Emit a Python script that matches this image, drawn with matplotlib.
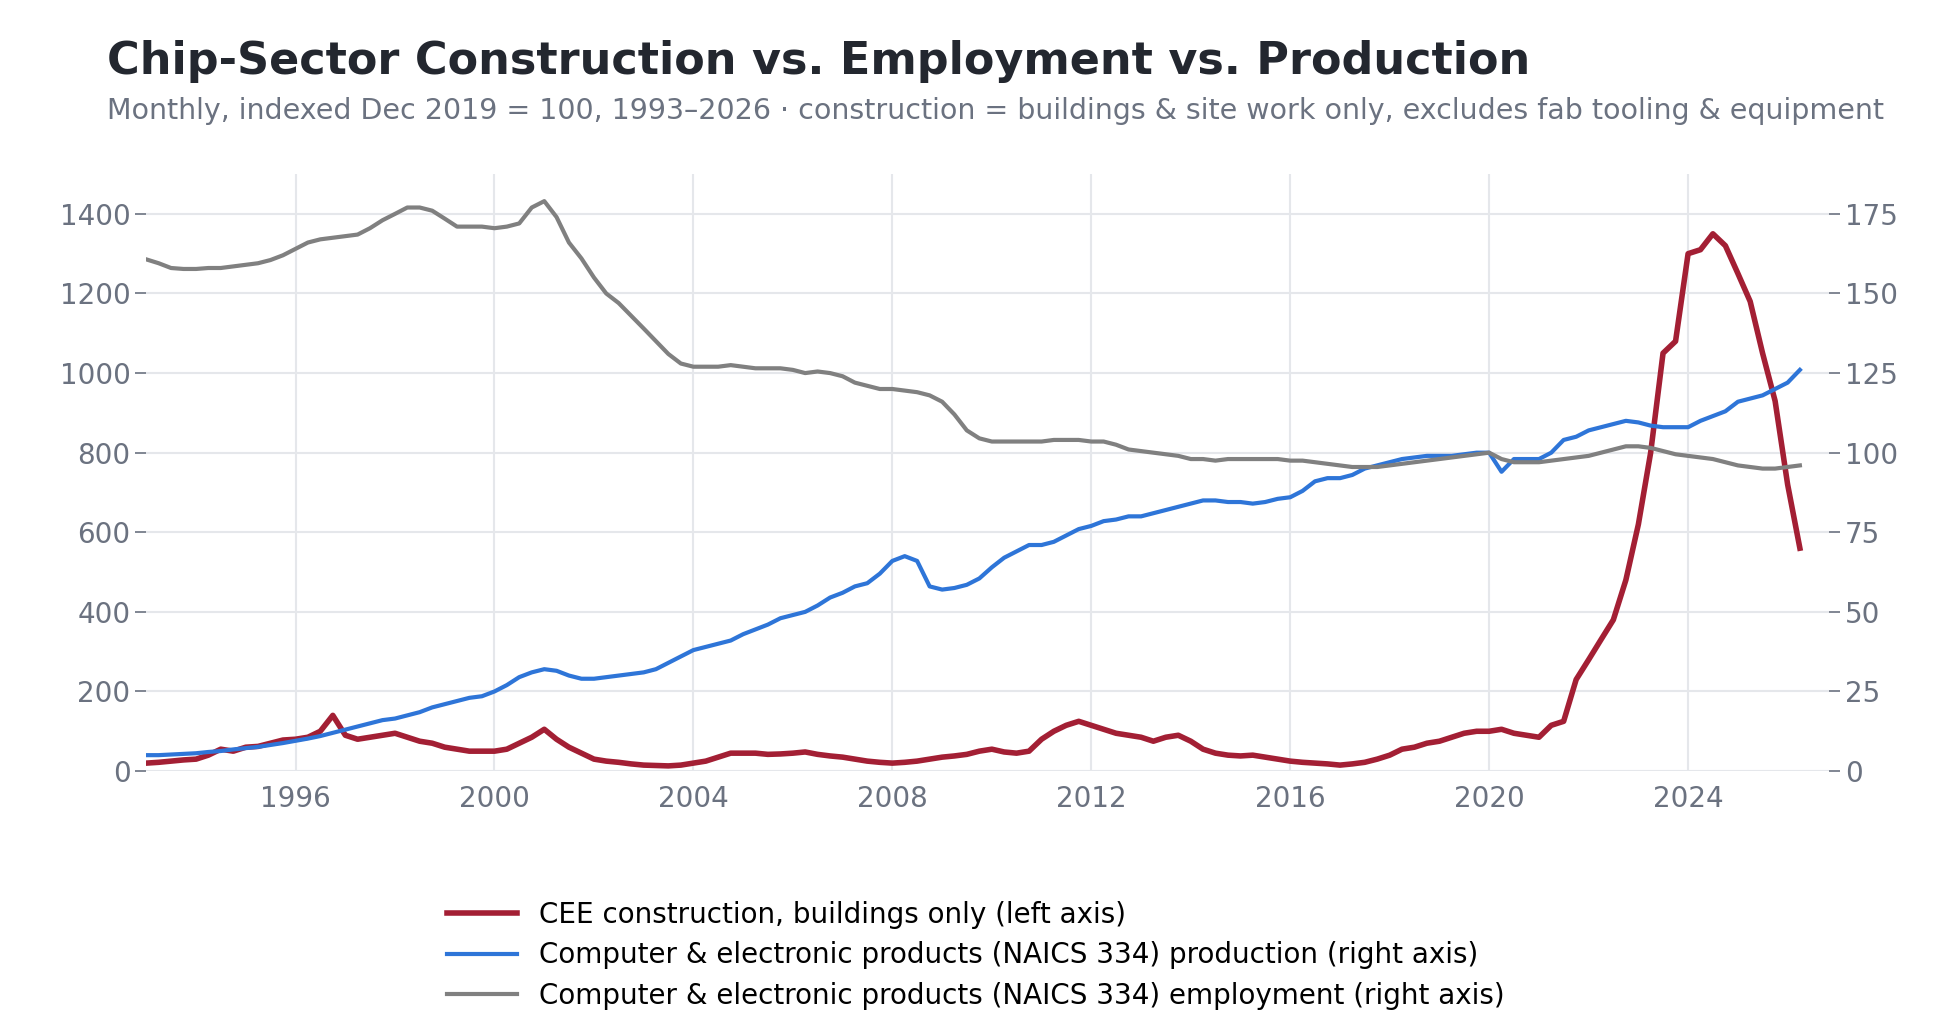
import numpy as np
import pandas as pd
import matplotlib
matplotlib.use("Agg")
import matplotlib.pyplot as plt

start = "1993-01-01"
construction = [20,22,25,28, 30,40,55,50, 60,62,70,78, 80,85,100,140, 90,80,85,90,
 95,85,75,70, 60,55,50,50, 50,55,70,85, 105,80,60,45, 30,25,22,18, 15,14,13,15,
 20,25,35,45, 45,45,42,43, 45,48,42,38, 35,30,25,22, 20,22,25,30, 35,38,42,50,
 55,48,45,50, 80,100,115,125, 115,105,95,90, 85,75,85,90, 75,55,45,40, 38,40,35,30,
 25,22,20,18, 15,18,22,30, 40,55,60,70, 75,85,95,100, 100,105,95,90, 85,115,125,230,
 280,330,380,480, 620,800,1050,1080, 1300,1310,1350,1320, 1250,1180,1050,930, 720,560]
production = [5,5,5.2,5.4, 5.6,6,6.3,6.8, 7.2,7.6,8.2,8.8, 9.5,10.2,11,12, 13,14,15,16,
 16.5,17.5,18.5,20, 21,22,23,23.5, 25,27,29.5,31, 32,31.5,30,29, 29,29.5,30,30.5,
 31,32,34,36, 38,39,40,41, 43,44.5,46,48, 49,50,52,54.5, 56,58,59,62, 66,67.5,66,58,
 57,57.5,58.5,60.5, 64,67,69,71, 71,72,74,76, 77,78.5,79,80, 80,81,82,83, 84,85,85,84.5,
 84.5,84,84.5,85.5, 86,88,91,92, 92,93,95,96, 97,98,98.5,99, 99,99,99.5,100,
 100,94,98,98, 98,100,104,105, 107,108,109,110, 109.5,108.5,108,108, 108,110,111.5,113,
 116,117,118,120, 122,126]
employment = [160.7,159.5,158,157.7, 157.7,158,158,158.5, 159,159.5,160.5,162, 164,166,167,167.5,
 168,168.5,170.5,173, 175,177,177,176, 173.5,171,171,171, 170.5,171,172,177,
 179,174,166,161, 155,150,147,143, 139,135,131,128, 127,127,127,127.5, 127,126.5,126.5,126.5,
 126,125,125.5,125, 124,122,121,120, 120,119.5,119,118, 116,112,107,104.5,
 103.5,103.5,103.5,103.5, 103.5,104,104,104, 103.5,103.5,102.5,101, 100.5,100,99.5,99,
 98,98,97.5,98, 98,98,98,98, 97.5,97.5,97,96.5, 96,95.5,95.5,95.5, 96,96.5,97,97.5,
 98,98.5,99,99.5, 100,98,97,97, 97,97.5,98,98.5, 99,100,101,102, 102,101.5,100.5,99.5,
 99,98.5,98,97, 96,95.5,95,95, 95.5,96]

dates = pd.date_range(start, periods=len(construction), freq="QS")

plt.rcParams["font.family"] = ["DejaVu Sans"]
fig = plt.figure(figsize=(19.52, 10.24), dpi=100)
ax = fig.add_axes([0.075, 0.247, 0.862, 0.583])
ax2 = ax.twinx()
tc = "#6b7280"
l1, = ax.plot(dates, construction, color="#a31f34", lw=4, label="CEE construction, buildings only (left axis)")
l2, = ax2.plot(dates, production, color="#2e75d8", lw=3, label="Computer & electronic products (NAICS 334) production (right axis)")
l3, = ax2.plot(dates, employment, color="#808080", lw=3, label="Computer & electronic products (NAICS 334) employment (right axis)")
ax.set_ylim(0, 1500); ax2.set_ylim(0, 187.5)
ax.set_yticks(range(0, 1401, 200)); ax2.set_yticks(range(0, 176, 25))
ax.set_xlim(pd.Timestamp("1993-01-01"), pd.Timestamp("2026-11-01"))
ax.set_xticks([pd.Timestamp(f"{y}-01-01") for y in range(1996, 2025, 4)])
ax.set_xticklabels([str(y) for y in range(1996, 2025, 4)])
ax.grid(True, color="#e5e7eb", lw=1.5)
ax.set_axisbelow(True)
for a in (ax, ax2):
    for s in a.spines.values():
        s.set_visible(False)
    a.tick_params(colors=tc, labelsize=20, length=8, width=1.2)
ax.tick_params(axis="x", length=0, pad=10)
fig.text(0.055, 0.94, "Chip-Sector Construction vs. Employment vs. Production", fontsize=32,
         fontweight="bold", color="#23272f", va="center")
fig.text(0.055, 0.892, "Monthly, indexed Dec 2019 = 100, 1993–2026 · construction = buildings & site work only, excludes fab tooling & equipment",
         fontsize=20.5, color=tc, va="center")
fig.legend(handles=[l1, l2, l3], loc="center", bbox_to_anchor=(0.5, 0.067), frameon=False,
           fontsize=20, handlelength=2.5, labelspacing=0.45)
fig.savefig("out.png", dpi=100)
